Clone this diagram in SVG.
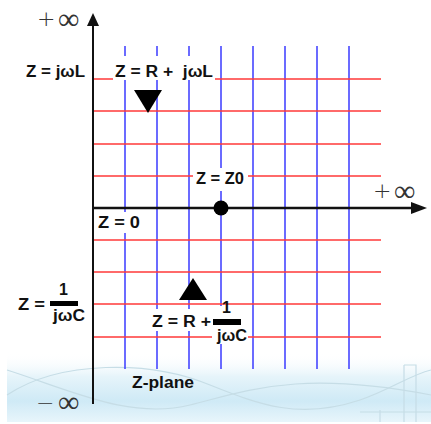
<svg xmlns="http://www.w3.org/2000/svg" width="431" height="424" viewBox="0 0 431 424">
  <defs>
    <linearGradient id="bg" x1="0" y1="0" x2="0" y2="1">
      <stop offset="0" stop-color="#ffffff" stop-opacity="0"/>
      <stop offset="0.35" stop-color="#e6f4fa"/>
      <stop offset="0.7" stop-color="#cfeaf6"/>
      <stop offset="1" stop-color="#e8f5fb"/>
    </linearGradient>
    <style>
      .blue { stroke: #3a3aff; stroke-width: 1.5; fill: none; }
      .red { stroke: #ff3838; stroke-width: 1.5; fill: none; }
      .lbl { font-family: "Liberation Sans", Arial, sans-serif; font-weight: bold; font-size: 16px; fill: #111; }
      .inf { font-family: "DejaVu Sans", "Liberation Serif", serif; font-size: 22px; font-weight: 200; fill: #333; }
      .big { font-size: 30px; }
      .mask { fill: #ffffff; }
      .wave { stroke: #c6dde6; stroke-width: 1.2; fill: none; }
    </style>
  </defs>
  <rect x="0" y="0" width="431" height="424" fill="#ffffff"/>
  <!-- decorative background band -->
  <g id="background">
    <rect x="7" y="352" width="424" height="70" fill="url(#bg)"/>
    <path class="wave" d="M7,395 C60,360 150,360 210,385 C260,405 300,420 360,400 C390,390 410,375 431,370"/>
    <path class="wave" d="M7,370 C70,390 130,420 190,405 C250,390 300,370 431,395"/>
    <path class="wave" d="M404,365 L416,365 L416,422 M404,365 L404,422"/>
    <path class="wave" d="M380,410 L380,422 M360,412 L431,412"/>
  </g>
  <!-- grid -->
  <g id="grid">
    <g class="blue">
      <line x1="125" y1="46" x2="125" y2="369"/>
      <line x1="157" y1="46" x2="157" y2="369"/>
      <line x1="189" y1="46" x2="189" y2="369"/>
      <line x1="221" y1="46" x2="221" y2="369"/>
      <line x1="253" y1="46" x2="253" y2="369"/>
      <line x1="285" y1="46" x2="285" y2="369"/>
      <line x1="317" y1="46" x2="317" y2="369"/>
      <line x1="349" y1="46" x2="349" y2="369"/>
    </g>
    <g class="red">
      <line x1="93" y1="79" x2="381" y2="79"/>
      <line x1="93" y1="111" x2="381" y2="111"/>
      <line x1="93" y1="144" x2="381" y2="144"/>
      <line x1="93" y1="176" x2="381" y2="176"/>
      <line x1="93" y1="240" x2="381" y2="240"/>
      <line x1="93" y1="272" x2="381" y2="272"/>
      <line x1="93" y1="304" x2="381" y2="304"/>
      <line x1="93" y1="337" x2="381" y2="337"/>
    </g>
  </g>
  <!-- axes (connectors) -->
  <g id="connectors">
    <line x1="93" y1="24" x2="93" y2="404" stroke="#111" stroke-width="2"/>
    <polygon points="93,13 99,26 87,26" fill="#111"/>
    <line x1="93" y1="208" x2="414" y2="208" stroke="#111" stroke-width="2.5"/>
    <polygon points="427,208 411,202 411,214" fill="#111"/>
  </g>
  <!-- infinity labels -->
  <g id="inf-labels">
    <text class="inf" x="37" y="26">+</text>
    <text class="inf big" x="58" y="29">∞</text>
    <text class="inf" x="373" y="198">+</text>
    <text class="inf big" x="394" y="201">∞</text>
    <text class="inf" x="36" y="410">−</text>
    <text class="inf big" x="58" y="412">∞</text>
  </g>
  <!-- Z = jωL -->
  <g id="node-jwl">
    <text class="lbl" x="26" y="77" textLength="59" lengthAdjust="spacingAndGlyphs">Z = jωL</text>
  </g>
  <!-- Z = R + jωL with down triangle -->
  <g id="node-rl">
    <rect class="mask" x="113" y="56" width="102" height="24"/>
    <text class="lbl" x="115" y="77" textLength="98" lengthAdjust="spacingAndGlyphs" xml:space="preserve">Z = R +  jωL</text>
    <polygon points="134,90 162,90 148,113" fill="#000"/>
  </g>
  <!-- Z = Z0 and dot -->
  <g id="node-z0">
    <rect class="mask" x="193" y="168" width="55" height="23"/>
    <text class="lbl" x="196" y="184" textLength="48" lengthAdjust="spacingAndGlyphs">Z = Z0</text>
    <circle cx="221" cy="208" r="7.5" fill="#000"/>
  </g>
  <!-- Z = 0 -->
  <g id="node-zero">
    <rect class="mask" x="95" y="212" width="50" height="21"/>
    <text class="lbl" x="98" y="228" textLength="42" lengthAdjust="spacingAndGlyphs">Z = 0</text>
  </g>
  <!-- Z = 1/jωC -->
  <g id="node-jwc">
    <text class="lbl" x="18" y="310" textLength="27" lengthAdjust="spacingAndGlyphs">Z =</text>
    <text class="lbl" x="59" y="295">1</text>
    <rect x="50" y="301" width="28" height="5" fill="#000"/>
    <text class="lbl" x="53" y="321" textLength="32" lengthAdjust="spacingAndGlyphs">jωC</text>
  </g>
  <!-- Z = R + 1/jωC with up triangle -->
  <g id="node-rc">
    <polygon points="179,300 207,300 193,278" fill="#000"/>
    <rect class="mask" x="150" y="309" width="62" height="22"/>
    <rect class="mask" x="212" y="306" width="36" height="38"/>
    <text class="lbl" x="152" y="327" textLength="59" lengthAdjust="spacingAndGlyphs">Z = R +</text>
    <text class="lbl" x="222" y="313">1</text>
    <rect x="213" y="319" width="28" height="6" fill="#000"/>
    <text class="lbl" x="217" y="341" textLength="30" lengthAdjust="spacingAndGlyphs">jωC</text>
  </g>
  <!-- Z-plane caption -->
  <g id="caption">
    <text class="lbl" x="132" y="388" textLength="62" lengthAdjust="spacingAndGlyphs">Z-plane</text>
  </g>
</svg>
